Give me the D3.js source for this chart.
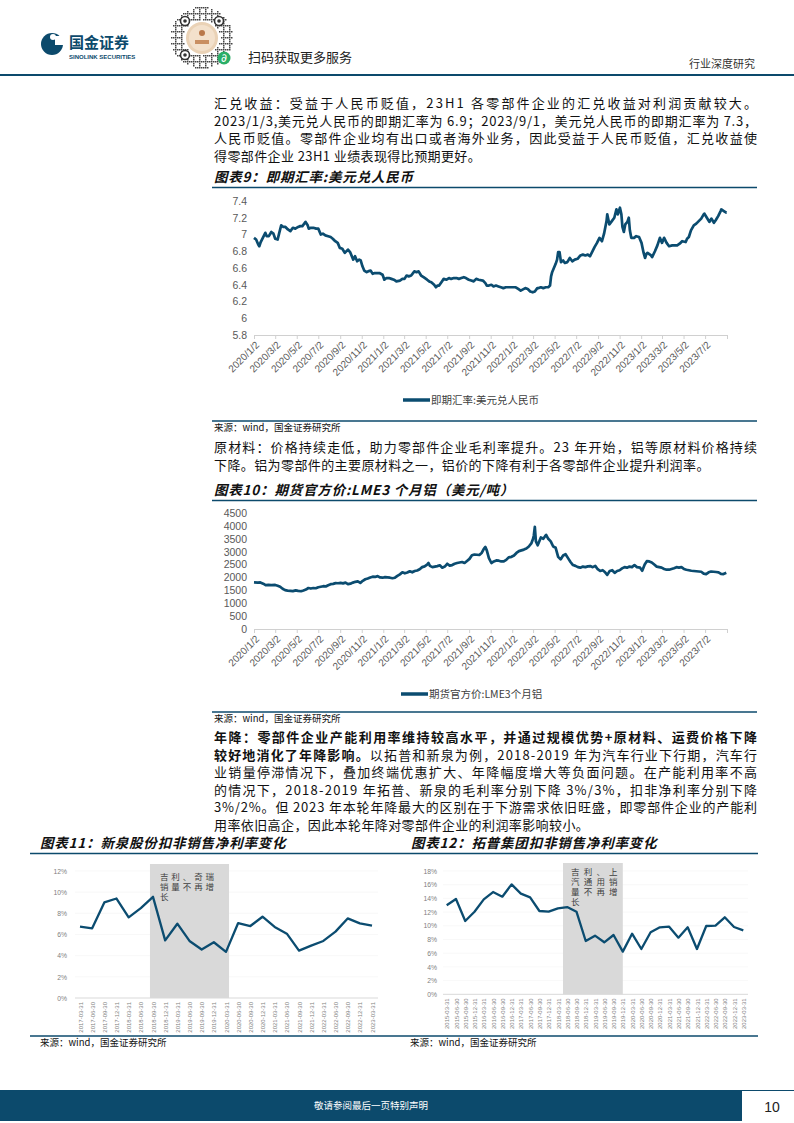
<!DOCTYPE html>
<html>
<head>
<meta charset="utf-8">
<script src="https://cdn.jsdelivr.net/npm/d3@7"></script>
<style>
body { margin: 0; background: #fff; }
svg { display: block; }
text { font-family: "Noto Sans CJK SC", "Noto Sans", sans-serif; }
</style>
</head>
<body>
<script>
// ---------- data ----------
const fxTickLabels = ['2020/1/2','2020/3/2','2020/5/2','2020/7/2','2020/9/2','2020/11/2','2021/1/2','2021/3/2','2021/5/2','2021/7/2','2021/9/2','2021/11/2','2022/1/2','2022/3/2','2022/5/2','2022/7/2','2022/9/2','2022/11/2','2023/1/2','2023/3/2','2023/5/2','2023/7/2'];
const fxTicksY = [5.8, 6, 6.2, 6.4, 6.6, 6.8, 7, 7.2, 7.4];
const fxSeries = [
  ['2020-01-02',6.96],['2020-01-08',6.94],['2020-01-14',6.88],['2020-01-17',6.86],['2020-01-21',6.91],['2020-02-03',7.02],['2020-02-07',6.98],['2020-02-13',6.98],['2020-02-20',7.03],['2020-02-26',7.01],['2020-03-02',6.95],['2020-03-09',6.94],['2020-03-13',7.01],['2020-03-19',7.11],['2020-03-25',7.09],['2020-03-31',7.09],['2020-04-07',7.06],['2020-04-14',7.04],['2020-04-21',7.08],['2020-04-28',7.07],['2020-05-06',7.09],['2020-05-12',7.10],['2020-05-18',7.10],['2020-05-27',7.15],['2020-06-02',7.11],['2020-06-05',7.07],['2020-06-11',7.08],['2020-06-18',7.08],['2020-06-26',7.07],['2020-07-02',7.07],['2020-07-09',7.00],['2020-07-15',7.01],['2020-07-22',6.99],['2020-07-30',6.98],['2020-08-06',6.97],['2020-08-12',6.95],['2020-08-19',6.92],['2020-08-26',6.90],['2020-09-01',6.84],['2020-09-08',6.83],['2020-09-15',6.78],['2020-09-24',6.82],['2020-09-30',6.79],['2020-10-09',6.70],['2020-10-14',6.74],['2020-10-20',6.68],['2020-10-26',6.70],['2020-10-30',6.69],['2020-11-04',6.62],['2020-11-09',6.57],['2020-11-16',6.55],['2020-11-20',6.56],['2020-11-27',6.57],['2020-12-03',6.53],['2020-12-09',6.54],['2020-12-15',6.54],['2020-12-22',6.54],['2020-12-31',6.52],
  ['2021-01-05',6.46],['2021-01-11',6.48],['2021-01-18',6.48],['2021-01-25',6.47],['2021-02-01',6.46],['2021-02-08',6.44],['2021-02-18',6.45],['2021-02-25',6.47],['2021-03-03',6.47],['2021-03-09',6.51],['2021-03-15',6.50],['2021-03-22',6.51],['2021-03-31',6.56],['2021-04-06',6.55],['2021-04-12',6.56],['2021-04-19',6.51],['2021-04-26',6.49],['2021-05-06',6.46],['2021-05-12',6.44],['2021-05-18',6.43],['2021-05-26',6.40],['2021-05-31',6.37],['2021-06-04',6.39],['2021-06-09',6.39],['2021-06-17',6.44],['2021-06-22',6.47],['2021-06-30',6.46],['2021-07-07',6.48],['2021-07-13',6.47],['2021-07-21',6.48],['2021-07-28',6.48],['2021-08-04',6.47],['2021-08-11',6.48],['2021-08-18',6.49],['2021-08-24',6.48],['2021-09-01',6.46],['2021-09-08',6.45],['2021-09-15',6.44],['2021-09-22',6.47],['2021-09-29',6.46],['2021-10-11',6.45],['2021-10-18',6.42],['2021-10-22',6.39],['2021-10-28',6.39],['2021-11-04',6.40],['2021-11-10',6.38],['2021-11-17',6.39],['2021-11-24',6.38],['2021-12-01',6.37],['2021-12-08',6.36],['2021-12-15',6.37],['2021-12-22',6.37],['2021-12-31',6.37],
  ['2022-01-05',6.37],['2022-01-12',6.37],['2022-01-19',6.35],['2022-01-26',6.33],['2022-02-08',6.36],['2022-02-15',6.35],['2022-02-22',6.32],['2022-03-01',6.31],['2022-03-07',6.32],['2022-03-14',6.36],['2022-03-18',6.36],['2022-03-24',6.37],['2022-03-31',6.36],['2022-04-07',6.37],['2022-04-14',6.37],['2022-04-19',6.39],['2022-04-22',6.50],['2022-04-25',6.55],['2022-04-27',6.57],['2022-05-05',6.65],['2022-05-09',6.70],['2022-05-12',6.79],['2022-05-16',6.79],['2022-05-20',6.67],['2022-05-26',6.69],['2022-05-31',6.66],['2022-06-07',6.67],['2022-06-14',6.72],['2022-06-21',6.68],['2022-06-28',6.70],['2022-07-06',6.71],['2022-07-14',6.75],['2022-07-21',6.76],['2022-07-28',6.75],['2022-08-04',6.76],['2022-08-10',6.74],['2022-08-16',6.79],['2022-08-23',6.85],['2022-08-30',6.90],['2022-09-06',6.96],['2022-09-13',6.92],['2022-09-19',7.01],['2022-09-26',7.16],['2022-09-28',7.24],['2022-10-04',7.12],['2022-10-11',7.16],['2022-10-18',7.20],['2022-10-24',7.30],['2022-10-28',7.24],['2022-11-03',7.32],['2022-11-07',7.24],['2022-11-10',7.09],['2022-11-14',7.03],['2022-11-18',7.12],['2022-11-24',7.15],['2022-11-28',7.20],['2022-12-01',7.05],['2022-12-05',6.96],['2022-12-13',6.96],['2022-12-19',6.98],['2022-12-27',6.97],
  ['2023-01-03',6.90],['2023-01-09',6.78],['2023-01-13',6.72],['2023-01-17',6.77],['2023-01-20',6.78],['2023-01-30',6.75],['2023-02-02',6.73],['2023-02-10',6.80],['2023-02-17',6.87],['2023-02-24',6.96],['2023-03-02',6.90],['2023-03-08',6.96],['2023-03-15',6.90],['2023-03-22',6.86],['2023-03-31',6.87],['2023-04-07',6.87],['2023-04-14',6.87],['2023-04-21',6.89],['2023-04-28',6.92],['2023-05-08',6.91],['2023-05-12',6.95],['2023-05-17',6.97],['2023-05-23',7.05],['2023-05-31',7.11],['2023-06-07',7.13],['2023-06-14',7.16],['2023-06-21',7.19],['2023-06-28',7.24],['2023-06-30',7.25],['2023-07-07',7.20],['2023-07-14',7.15],['2023-07-20',7.19],['2023-07-27',7.14],['2023-08-01',7.17],['2023-08-08',7.22],['2023-08-15',7.28],['2023-08-17',7.30],['2023-08-24',7.28],['2023-08-31',7.26],['2023-09-01',7.26]
];

const alTicksY = [0, 500, 1000, 1500, 2000, 2500, 3000, 3500, 4000, 4500];
const alSeries = [
  ['2020-01-02',1810],['2020-01-13',1800],['2020-01-20',1805],['2020-01-28',1760],['2020-02-04',1700],['2020-02-12',1710],['2020-02-20',1700],['2020-03-02',1710],['2020-03-09',1680],['2020-03-16',1640],['2020-03-23',1560],['2020-03-30',1510],['2020-04-06',1490],['2020-04-14',1480],['2020-04-21',1470],['2020-04-29',1500],['2020-05-06',1480],['2020-05-14',1465],['2020-05-21',1495],['2020-05-28',1530],['2020-06-04',1590],['2020-06-11',1570],['2020-06-18',1590],['2020-06-25',1580],['2020-07-02',1620],['2020-07-09',1640],['2020-07-16',1660],['2020-07-23',1650],['2020-07-30',1700],['2020-08-06',1740],['2020-08-13',1750],['2020-08-20',1780],['2020-08-27',1775],['2020-09-03',1790],['2020-09-10',1770],['2020-09-17',1800],['2020-09-24',1740],['2020-10-01',1760],['2020-10-08',1800],['2020-10-15',1830],['2020-10-22',1850],['2020-10-29',1790],['2020-11-05',1870],['2020-11-12',1930],['2020-11-19',1960],['2020-11-26',2000],['2020-12-03',2030],['2020-12-10',2020],['2020-12-17',2050],['2020-12-24',2000],['2020-12-31',1990],
  ['2021-01-07',2010],['2021-01-14',2000],['2021-01-21',1990],['2021-01-28',1970],['2021-02-04',1990],['2021-02-11',2060],['2021-02-18',2120],['2021-02-25',2200],['2021-03-04',2160],['2021-03-11',2190],['2021-03-18',2240],['2021-03-25',2200],['2021-04-01',2250],['2021-04-08',2270],['2021-04-15',2320],['2021-04-22',2400],['2021-04-29',2430],['2021-05-06',2500],['2021-05-10',2560],['2021-05-14',2450],['2021-05-21',2400],['2021-05-28',2420],['2021-06-04',2440],['2021-06-11',2470],['2021-06-18',2380],['2021-06-25',2420],['2021-07-02',2530],['2021-07-09',2460],['2021-07-16',2480],['2021-07-23',2530],['2021-07-30',2560],['2021-08-06',2580],['2021-08-13',2600],['2021-08-20',2560],['2021-08-27',2640],['2021-09-03',2720],['2021-09-10',2860],['2021-09-17',2890],['2021-09-24',2880],['2021-10-01',2870],['2021-10-08',2960],['2021-10-14',3120],['2021-10-18',3180],['2021-10-22',3050],['2021-10-28',2750],['2021-11-04',2560],['2021-11-11',2620],['2021-11-18',2660],['2021-11-25',2650],['2021-12-02',2620],['2021-12-09',2620],['2021-12-16',2680],['2021-12-23',2780],['2021-12-31',2800],
  ['2022-01-07',2850],['2022-01-14',2950],['2022-01-21',3020],['2022-01-28',3050],['2022-02-04',3080],['2022-02-11',3120],['2022-02-18',3200],['2022-02-25',3320],['2022-03-02',3500],['2022-03-04',3620],['2022-03-07',3960],['2022-03-10',3400],['2022-03-15',3250],['2022-03-18',3350],['2022-03-24',3550],['2022-03-31',3500],['2022-04-05',3600],['2022-04-08',3650],['2022-04-14',3500],['2022-04-21',3400],['2022-04-28',3200],['2022-05-05',3150],['2022-05-12',2800],['2022-05-19',2700],['2022-05-26',2850],['2022-06-02',2900],['2022-06-09',2750],['2022-06-16',2600],['2022-06-23',2480],['2022-06-30',2450],['2022-07-07',2400],['2022-07-14',2380],['2022-07-21',2420],['2022-07-28',2400],['2022-08-04',2430],['2022-08-11',2440],['2022-08-18',2400],['2022-08-25',2450],['2022-09-01',2320],['2022-09-08',2250],['2022-09-15',2280],['2022-09-22',2200],['2022-09-28',2100],['2022-10-05',2250],['2022-10-12',2280],['2022-10-19',2180],['2022-10-26',2250],['2022-11-02',2280],['2022-11-09',2350],['2022-11-16',2400],['2022-11-23',2380],['2022-11-30',2420],['2022-12-07',2400],['2022-12-14',2480],['2022-12-21',2400],['2022-12-30',2380],
  ['2023-01-05',2260],['2023-01-12',2500],['2023-01-18',2630],['2023-01-25',2620],['2023-02-01',2580],['2023-02-08',2500],['2023-02-15',2420],['2023-02-22',2400],['2023-03-01',2380],['2023-03-08',2330],['2023-03-15',2300],['2023-03-22',2300],['2023-03-29',2330],['2023-04-05',2360],['2023-04-12',2400],['2023-04-19',2380],['2023-04-26',2400],['2023-05-03',2330],['2023-05-10',2300],['2023-05-17',2280],['2023-05-24',2260],['2023-05-31',2250],['2023-06-07',2240],['2023-06-14',2230],['2023-06-21',2220],['2023-06-28',2150],['2023-07-05',2130],['2023-07-12',2200],['2023-07-19',2230],['2023-07-26',2220],['2023-08-02',2210],['2023-08-09',2200],['2023-08-16',2140],['2023-08-23',2130],['2023-08-31',2180]
];

const xqQuarters = ['2017-03-31','2017-06-30','2017-09-30','2017-12-31','2018-03-31','2018-06-30','2018-09-30','2018-12-31','2019-03-31','2019-06-30','2019-09-30','2019-12-31','2020-03-31','2020-06-30','2020-09-30','2020-12-31','2021-03-31','2021-06-30','2021-09-30','2021-12-31','2022-03-31','2022-06-30','2022-09-30','2022-12-31','2023-03-31'];
const xqMargin = [6.74, 6.58, 9.03, 9.40, 7.62, 8.50, 9.56, 5.45, 7.02, 5.39, 4.58, 5.27, 4.36, 7.08, 6.80, 7.68, 6.71, 6.08, 4.48, 4.95, 5.39, 6.27, 7.52, 7.05, 6.83];
const xqTicksY = [0, 2, 4, 6, 8, 10, 12];

const tpQuarters = ['2015-03-31','2015-06-30','2015-09-30','2015-12-31','2016-03-31','2016-06-30','2016-09-30','2016-12-31','2017-03-31','2017-06-30','2017-09-30','2017-12-31','2018-03-31','2018-06-30','2018-09-30','2018-12-31','2019-03-31','2019-06-30','2019-09-30','2019-12-31','2020-03-31','2020-06-30','2020-09-30','2020-12-31','2021-03-31','2021-06-30','2021-09-30','2021-12-31','2022-03-31','2022-06-30','2022-09-30','2022-12-31','2023-03-31'];
const tpMargin = [12.99, 13.91, 10.70, 12.06, 13.86, 14.93, 14.25, 16.05, 14.69, 14.15, 12.16, 12.06, 12.55, 12.74, 12.06, 7.78, 8.56, 7.59, 8.66, 6.23, 8.85, 6.61, 9.05, 9.78, 9.87, 8.27, 9.78, 6.61, 9.97, 10.02, 11.24, 9.82, 9.34];
const tpTicksY = [0, 2, 4, 6, 8, 10, 12, 14, 16, 18];

// ---------- page ----------
const navy = '#0c4a6c';
const lineColor = '#0b4c70';
const svg = d3.select('body').append('svg').attr('width', 794).attr('height', 1123);
svg.append('rect').attr('width', 794).attr('height', 1123).attr('fill', '#fff');

// header
svg.append('circle').attr('cx', 52).attr('cy', 44).attr('r', 11).attr('fill', navy);
svg.append('rect').attr('x', 55).attr('y', 36).attr('width', 8).attr('height', 9).attr('fill', '#fff');
svg.append('circle').attr('cx', 53).attr('cy', 37).attr('r', 3).attr('fill', '#fff');
svg.append('text').attr('x', 69).attr('y', 48).attr('font-size', 15).attr('font-weight', 700).attr('fill', navy).text('国金证券');
svg.append('text').attr('x', 69).attr('y', 58.5).attr('font-size', 6).attr('font-weight', 700).attr('fill', navy)
  .style('font-family', 'Liberation Sans, Arial').text('SINOLINK SECURITIES');

// mini program code (decoration)
const qr = svg.append('g');
for (let i = -15; i <= 15; i++) {
  for (let j = -15; j <= 15; j++) {
    const r = Math.sqrt(i * i + j * j) * 2;
    if (r < 31 && r > 18 && ((i * i * 3 + j * 7 + i * j) % 3 === 0)) {
      qr.append('rect').attr('x', 201 + i * 2).attr('y', 37 + j * 2).attr('width', 1.5).attr('height', 1.5).attr('fill', '#444');
    }
  }
}
[[185, 21], [219, 21], [185, 55]].forEach(p => {
  qr.append('circle').attr('cx', p[0]).attr('cy', p[1]).attr('r', 4.5).attr('fill', '#fff').attr('stroke', '#333').attr('stroke-width', 1.6);
  qr.append('circle').attr('cx', p[0]).attr('cy', p[1]).attr('r', 1.8).attr('fill', '#333');
});
qr.append('circle').attr('cx', 202).attr('cy', 38).attr('r', 16).attr('fill', '#ead2b6');
qr.append('circle').attr('cx', 202).attr('cy', 38).attr('r', 13).attr('fill', '#f3e1cc');
qr.append('circle').attr('cx', 202).attr('cy', 33).attr('r', 3).attr('fill', '#b9784a');
qr.append('rect').attr('x', 195).attr('y', 40).attr('width', 14).attr('height', 4).attr('fill', '#c98f62');
qr.append('circle').attr('cx', 224).attr('cy', 58).attr('r', 6.5).attr('fill', '#2aae67');
qr.append('text').attr('x', 224).attr('y', 61).attr('text-anchor', 'middle').attr('font-size', 8).attr('font-weight', 700).attr('fill', '#fff').text('∂');

svg.append('text').attr('x', 248).attr('y', 62).attr('font-size', 13).attr('fill', '#222').text('扫码获取更多服务');
svg.append('text').attr('x', 689).attr('y', 68).attr('font-size', 11).attr('fill', '#333').text('行业深度研究');
svg.append('line').attr('x1', 0).attr('x2', 794).attr('y1', 75).attr('y2', 75).attr('stroke', navy).attr('stroke-width', 2);

// footer
svg.append('rect').attr('x', 0).attr('y', 1090).attr('width', 742).attr('height', 31).attr('fill', navy);
svg.append('line').attr('x1', 742).attr('x2', 794).attr('y1', 1090.5).attr('y2', 1090.5).attr('stroke', navy).attr('stroke-width', 1);
svg.append('text').attr('x', 371).attr('y', 1109).attr('text-anchor', 'middle').attr('font-size', 9.5).attr('fill', '#fff').text('敬请参阅最后一页特别声明');
svg.append('text').attr('x', 772).attr('y', 1112).attr('text-anchor', 'middle').attr('font-size', 14).attr('fill', '#222')
  .style('font-family', 'Liberation Sans, Arial').text('10');

// ---------- text blocks ----------
const para1 = [
  { t: '汇兑收益：受益于人民币贬值，23H1 各零部件企业的汇兑收益对利润贡献较大。', j: true },
  { t: '2023/1/3,美元兑人民币的即期汇率为 6.9；2023/9/1，美元兑人民币的即期汇率为 7.3，', j: true },
  { t: '人民币贬值。零部件企业均有出口或者海外业务，因此受益于人民币贬值，汇兑收益使', j: true },
  { t: '得零部件企业 23H1 业绩表现得比预期更好。' }
];
const para2 = [
  { t: '原材料：价格持续走低，助力零部件企业毛利率提升。23 年开始，铝等原材料价格持续', j: true },
  { t: '下降。铝为零部件的主要原材料之一，铝价的下降有利于各零部件企业提升利润率。' }
];
const para3 = [
  { t: [{ s: '年降：零部件企业产能利用率维持较高水平，并通过规模优势+原材料、运费价格下降', b: 1 }], j: true },
  { t: [{ s: '较好地消化了年降影响。', b: 1 }, { s: '以拓普和新泉为例，2018-2019 年为汽车行业下行期，汽车行' }], j: true },
  { t: '业销量停滞情况下，叠加终端优惠扩大、年降幅度增大等负面问题。在产能利用率不高', j: true },
  { t: '的情况下，2018-2019 年拓普、新泉的毛利率分别下降 3%/3%，扣非净利率分别下降', j: true },
  { t: '3%/2%。但 2023 年本轮年降最大的区别在于下游需求依旧旺盛，即零部件企业的产能利', j: true },
  { t: '用率依旧高企，因此本轮年降对零部件企业的利润率影响较小。' }
];

function para(lines, x, y, lh) {
  lines.forEach((ln, i) => {
    const t = svg.append('text').attr('x', x).attr('y', y + i * lh).attr('font-size', 13).attr('fill', '#111');
    const segs = typeof ln.t === 'string' ? [{ s: ln.t }] : ln.t;
    segs.forEach(sg => t.append('tspan').attr('font-weight', sg.b ? 700 : 400).text(sg.s));
    if (ln.j) t.attr('textLength', 543).attr('lengthAdjust', 'spacing');
    else t.attr('letter-spacing', 0.4);
  });
}

function title(txt, x, y, x1, x2) {
  svg.append('text').attr('x', x).attr('y', y).attr('font-size', 13.5).attr('font-weight', 700)
    .attr('font-style', 'italic').attr('letter-spacing', 0.8).attr('fill', '#111').text(txt);
  svg.append('line').attr('x1', x1).attr('x2', x2).attr('y1', y + 5.5).attr('y2', y + 5.5).attr('stroke', navy).attr('stroke-width', 1.3);
}

function source(x, y, x1, x2) {
  svg.append('line').attr('x1', x1).attr('x2', x2).attr('y1', y).attr('y2', y).attr('stroke', navy).attr('stroke-width', 1.3);
  svg.append('text').attr('x', x).attr('y', y + 10).attr('font-size', 9.5).attr('fill', '#111').text('来源：wind，国金证券研究所');
}

para(para1, 214, 108, 17.6);
title('图表9：即期汇率:美元兑人民币', 214, 182, 212, 757);
source(214, 421, 212, 757);
para(para2, 214, 452, 17.6);
title('图表10：期货官方价:LME3 个月铝（美元/吨）', 214, 495, 212, 757);
source(214, 712, 212, 757);
para(para3, 214, 742, 17.6);
title('图表11：新泉股份扣非销售净利率变化', 40, 848, 30, 400);
title('图表12：拓普集团扣非销售净利率变化', 411, 848, 400, 758);
source(40, 1036, 30, 400);
source(410, 1036, 400, 758);

// ---------- time-series charts ----------
const parseDay = d3.timeParse('%Y-%m-%d');
const tickDates = fxTickLabels.map(s => { const p = s.split('/').map(Number); return new Date(p[0], p[1] - 1, p[2]); });
const endDate = new Date(2023, 8, 2);

function timeChart(o) {
  const x = d3.scaleTime().domain([tickDates[0], endDate]).range([254, 727]);
  const y = d3.scaleLinear().domain(o.yDomain).range([o.yBottom, o.yTop]);

  const ya = svg.append('g').attr('transform', 'translate(247,0)')
    .call(d3.axisLeft(y).tickValues(o.yTicks).tickSize(0).tickFormat(d => String(d)));
  ya.select('.domain').remove();
  ya.selectAll('text').attr('x', 0).attr('font-size', 10.5).attr('fill', '#595959').style('font-family', 'Liberation Sans, Arial');

  const xa = svg.append('g').attr('transform', `translate(0,${o.yBottom})`)
    .call(d3.axisBottom(x).tickValues(tickDates.concat([endDate])).tickSizeInner(4).tickSizeOuter(0)
      .tickFormat((d, i) => fxTickLabels[i] || ''));
  xa.select('.domain').attr('stroke', '#d0d0d0');
  xa.selectAll('.tick line').attr('stroke', '#d0d0d0');
  xa.selectAll('text').attr('x', -3.5).attr('y', 7.8).attr('dy', '0.35em').attr('text-anchor', 'end')
    .attr('transform', 'rotate(-45)').attr('font-size', 10).attr('fill', '#595959').style('font-family', 'Liberation Sans, Arial');

  svg.append('path').datum(o.series)
    .attr('d', d3.line().x(d => x(parseDay(d[0]))).y(d => y(d[1])))
    .attr('fill', 'none').attr('stroke', lineColor).attr('stroke-width', 2.7).attr('stroke-linejoin', 'round');

  svg.append('line').attr('x1', o.legendX).attr('x2', o.legendX + 27).attr('y1', o.legendY).attr('y2', o.legendY)
    .attr('stroke', lineColor).attr('stroke-width', 3.5);
  svg.append('text').attr('x', o.legendX + 28).attr('y', o.legendY).attr('dy', '0.36em').attr('font-size', 10.5)
    .attr('fill', '#404040').text(o.legend);
}

timeChart({ series: fxSeries, yDomain: [5.8, 7.4], yTicks: fxTicksY, yBottom: 335, yTop: 201, legendX: 403, legendY: 400, legend: '即期汇率:美元兑人民币' });
timeChart({ series: alSeries, yDomain: [0, 4500], yTicks: alTicksY, yBottom: 629, yTop: 513, legendX: 401, legendY: 694, legend: '期货官方价:LME3个月铝' });

// ---------- quarterly margin charts ----------
function marginChart(o) {
  const x = d3.scalePoint().domain(o.cats).range([o.xFirst, o.xLast]);
  const y = d3.scaleLinear().domain([0, o.yMax]).range([o.y0, o.yTop]);
  const step = x.step();

  svg.append('g').selectAll('line').data(o.yTicks.slice(1)).enter().append('line')
    .attr('x1', o.axisL).attr('x2', o.axisR).attr('y1', d => y(d)).attr('y2', d => y(d))
    .attr('stroke', '#f3f3f3').attr('stroke-width', 0.6);

  const sx1 = x(o.shade[0]) - o.shade[2] * step;
  const sx2 = x(o.shade[1]) + o.shade[3] * step;
  svg.append('rect').attr('x', sx1).attr('y', o.shadeTop).attr('width', sx2 - sx1).attr('height', o.y0 - o.shadeTop)
    .attr('fill', '#d9d9d9');

  const ya = svg.append('g').attr('transform', `translate(${o.labelR},0)`)
    .call(d3.axisLeft(y).tickValues(o.yTicks).tickSize(0).tickFormat(d => d + '%'));
  ya.select('.domain').remove();
  ya.selectAll('text').attr('x', 0).attr('font-size', 6.8).attr('fill', '#7f7f7f').style('font-family', 'Liberation Sans, Arial');

  const xa = svg.append('g').attr('transform', `translate(0,${o.y0})`)
    .call(d3.axisBottom(x).tickSize(0).tickSizeOuter(0));
  xa.select('.domain').attr('d', `M${o.axisL},0H${o.axisR}`).attr('stroke', '#d9d9d9');
  xa.selectAll('text').attr('x', -4).attr('y', 0).attr('dy', '0.35em').attr('text-anchor', 'end')
    .attr('transform', 'rotate(-90)').attr('font-size', 6).attr('fill', '#7f7f7f').style('font-family', 'Liberation Sans, Arial');

  svg.append('path').datum(o.vals)
    .attr('d', d3.line().x((d, i) => x(o.cats[i])).y(d => y(d)))
    .attr('fill', 'none').attr('stroke', lineColor).attr('stroke-width', 2.3).attr('stroke-linejoin', 'round');

  o.note.forEach((s, i) => {
    svg.append('text').attr('x', sx1 + o.noteDx).attr('y', o.noteY + i * 10)
      .attr('font-size', 8.5).attr('fill', '#404040').attr('letter-spacing', o.noteSpacing).text(s);
  });
}

marginChart({
  cats: xqQuarters, vals: xqMargin, yMax: 12, yTicks: xqTicksY,
  xFirst: 80, xLast: 372, y0: 998, yTop: 871, labelR: 67, axisL: 75, axisR: 378,
  shade: ['2018-09-30', '2020-03-31', 0.25, 0.25], shadeTop: 864,
  note: ['吉利、奇瑞', '销量不再增', '长'], noteDx: 10, noteY: 880, noteSpacing: 2.9
});
marginChart({
  cats: tpQuarters, vals: tpMargin, yMax: 18, yTicks: tpTicksY,
  xFirst: 446.7, xLast: 743.3, y0: 994.3, yTop: 871, labelR: 437, axisL: 443, axisR: 748,
  shade: ['2018-06-30', '2019-12-31', 0.45, 0], shadeTop: 863,
  note: ['吉利、上', '汽通用销', '量不再增', '长'], noteDx: 8, noteY: 875, noteSpacing: 4.2
});
</script>
</body>
</html>
